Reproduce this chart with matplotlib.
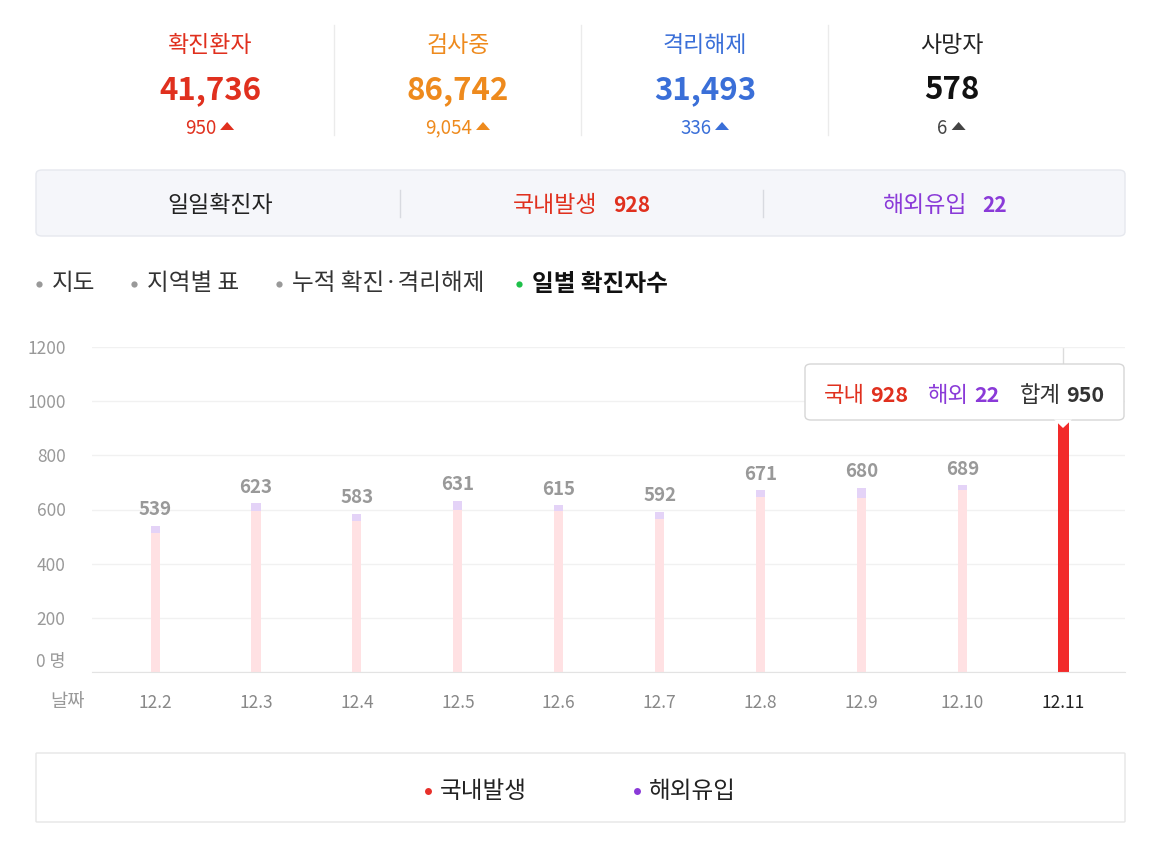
import matplotlib
matplotlib.use("Agg")
import matplotlib.pyplot as plt
from matplotlib.patches import FancyBboxPatch, Polygon
from matplotlib.lines import Line2D
from matplotlib.transforms import ScaledTranslation

plt.rcParams['font.family'] = ['Noto Sans CJK KR', 'DejaVu Sans']

# summary numbers
stat_titles = ['확진환자', '검사중', '격리해제', '사망자']
stat_values = [41736, 86742, 31493, 578]
stat_deltas = [950, 9054, 336, 6]
stat_colors = ['#E0301E', '#EE8A1D', '#3A6FD8', '#111111']

# daily cases
dates = ['12.2', '12.3', '12.4', '12.5', '12.6', '12.7', '12.8', '12.9', '12.10', '12.11']
domestic = [515, 594, 559, 600, 594, 564, 647, 644, 673, 928]
overseas = [24, 29, 24, 31, 21, 28, 24, 36, 16, 22]
yticks = [0, 200, 400, 600, 800, 1000, 1200]

W, H = 1156, 842
fig = plt.figure(figsize=(W / 100, H / 100), dpi=100)


def fx(x):
    return x / W


def fy(y):
    return 1 - y / H


def txt(x, y, s, **kw):
    kw.setdefault('va', 'center')
    kw.setdefault('ha', 'center')
    return fig.text(fx(x), fy(y + 2), s, **kw)


def box(x0, y0, x1, y1, fc, ec, r=6):
    p = FancyBboxPatch((fx(x0), fy(y1)), fx(x1) - fx(x0), fy(y0) - fy(y1),
                       boxstyle="round,pad=0,rounding_size=%f" % (r / W),
                       transform=fig.transFigure, fc=fc, ec=ec, lw=1)
    fig.patches.append(p)
    return p


def vline(x, y0, y1, c='#EBEBEB'):
    fig.lines.append(Line2D([fx(x), fx(x)], [fy(y0), fy(y1)], color=c, lw=1,
                            transform=fig.transFigure))


def up_arrow(x, y, c):
    # small flat triangle, centred on (x, y) in pixels
    fig.patches.append(Polygon([[fx(x - 7), fy(y + 4)], [fx(x + 7), fy(y + 4)], [fx(x), fy(y - 4)]],
                               closed=True, transform=fig.transFigure, fc=c, ec='none'))


# ---- top stats ----
renderer = fig.canvas.get_renderer()
centers = [210, 458, 705, 952]
for i in range(4):
    cx = centers[i]
    c = stat_colors[i]
    txt(cx, 43, stat_titles[i], fontsize=16.5, color=c if i < 3 else '#222222')
    txt(cx, 88, '{:,}'.format(stat_values[i]), fontsize=22.5, weight='bold', color=c)
    dc = c if i < 3 else '#444444'
    t = txt(cx, 126, '{:,}'.format(stat_deltas[i]), fontsize=13.5, color=dc)
    w = t.get_window_extent(renderer).width
    left = cx - (w + 19) / 2
    t.set_x(fx(left))
    t.set_ha('left')
    up_arrow(left + w + 11, 126, dc)
for x in [334, 581, 828]:
    vline(x, 25, 135)

# ---- daily box ----
box(36, 170, 1125, 236, '#F5F6FA', '#E6E8EE')
txt(220, 204, '일일확진자', fontsize=16.5, color='#222222')
vline(400, 190, 217, '#D8DAE0')
vline(763, 190, 217, '#D8DAE0')
txt(555, 204, '국내발생', fontsize=16.5, color='#E0301E')
txt(632, 204, str(domestic[-1]), fontsize=15, weight='bold', color='#E0301E')
txt(925, 204, '해외유입', fontsize=16.5, color='#8A3AD8')
txt(995, 204, str(overseas[-1]), fontsize=15, weight='bold', color='#8A3AD8')

# ---- tabs ----
tabs = [('지도', 36, '#999999', '#333333', 'normal'),
        ('지역별 표', 131, '#999999', '#333333', 'normal'),
        ('누적 확진·격리해제', 276, '#999999', '#333333', 'normal'),
        ('일별 확진자수', 516, '#1EC04A', '#111111', 'bold')]
for label, x, dc, tc, wt in tabs:
    fig.lines.append(Line2D([fx(x + 3)], [fy(284)], marker='o', ms=4.5, mew=0, color=dc,
                            transform=fig.transFigure))
    txt(x + 16, 282, label, fontsize=17, color=tc, weight=wt, ha='left')

# ---- chart ----
ax = fig.add_axes([fx(92), fy(672), fx(1125) - fx(92), fy(347) - fy(672)])
xs = list(range(len(dates)))
last = len(dates) - 1
dom_colors = ['#FFE1E3'] * last + ['#F22A2A']
widths = [0.09] * last + [0.105]
ax.bar(xs, domestic, width=widths, color=dom_colors, zorder=2)
ax.bar(xs, overseas, bottom=domestic, width=widths, color='#E4D3F7', zorder=2)
for i in range(last):
    tot = domestic[i] + overseas[i]
    ax.text(i, tot + 60, str(tot), ha='center', va='center', fontsize=13.5,
            weight='bold', color='#999999')
ax.axvline(last, color='#DCDCDC', lw=1, zorder=1)

ax.set_xlim(-0.625, 9.61)
ax.set_ylim(0, 1200)
ax.set_yticks(yticks)
ax.set_yticklabels(['0 명'] + [str(v) for v in yticks[1:]])
ax.set_xticks(xs)
ax.set_xticklabels(dates)
ax.tick_params(axis='y', length=0, pad=19, labelsize=12.5, labelcolor='#999999')
ax.tick_params(axis='x', length=0, pad=16, labelsize=12.5, labelcolor='#888888')
ax.get_xticklabels()[-1].set_color('#222222')
lab0 = ax.get_yticklabels()[0]
lab0.set_transform(lab0.get_transform() + ScaledTranslation(0, 9 / 72, fig.dpi_scale_trans))
ax.grid(axis='y', color='#F1F1F1', lw=1, zorder=0)
for s in ['top', 'right', 'left']:
    ax.spines[s].set_visible(False)
ax.spines['bottom'].set_color('#E3E3E3')
txt(67, 699, '날짜', fontsize=13.5, color='#999999')

# ---- tooltip ----
box(805, 364, 1124, 420, 'white', '#D6D6D6', r=6).set_zorder(5)
tri = Polygon([[fx(1054), fy(419.5)], [fx(1072), fy(419.5)], [fx(1063), fy(428)]],
              closed=True, transform=fig.transFigure, fc='white', ec='none', zorder=6)
fig.patches.append(tri)
tip = [('국내', str(domestic[-1]), '#E0301E', 824),
       ('해외', str(overseas[-1]), '#8A3AD8', 928),
       ('합계', str(domestic[-1] + overseas[-1]), '#333333', 1020)]
for lab, val, c, x in tip:
    t = txt(x, 393, lab, fontsize=16, color=c, ha='left', zorder=7)
    w = t.get_window_extent(renderer).width
    txt(x + w + 5, 393, val, fontsize=15.5, weight='bold', color=c, ha='left', zorder=7)

# ---- legend ----
box(36, 753, 1125, 822, 'white', '#E6E6E6', r=1)
for lab, c, x in [('국내발생', '#E8302A', 428), ('해외유입', '#8A3AD8', 637)]:
    fig.lines.append(Line2D([fx(x)], [fy(791)], marker='o', ms=5, mew=0, color=c,
                            transform=fig.transFigure))
    txt(x + 12, 789, lab, fontsize=17, color='#222222', ha='left')

fig.savefig('out.png', dpi=100, facecolor='white')
